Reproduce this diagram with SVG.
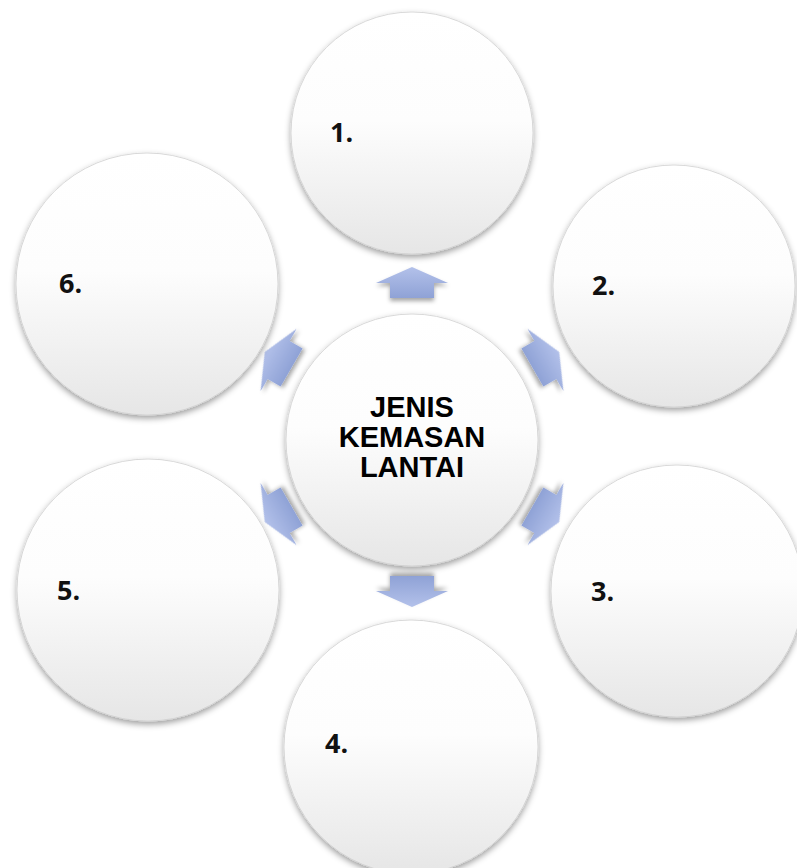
<svg xmlns="http://www.w3.org/2000/svg" width="797" height="868" viewBox="0 0 797 868">
  <defs>
    <linearGradient id="circFill" x1="0" y1="0" x2="0" y2="1">
      <stop offset="0" stop-color="#ffffff"/>
      <stop offset="0.45" stop-color="#fdfdfd"/>
      <stop offset="1" stop-color="#e6e6e6"/>
    </linearGradient>
    <linearGradient id="arrowFill" x1="0" y1="0" x2="0" y2="1">
      <stop offset="0" stop-color="#b3c1ea"/>
      <stop offset="1" stop-color="#8fa2d6"/>
    </linearGradient>
    <filter id="shadow" x="-20%" y="-20%" width="140%" height="145%">
      <feDropShadow dx="0" dy="3" stdDeviation="3" flood-color="#000000" flood-opacity="0.38"/>
    </filter>
    <filter id="ashadow" x="-30%" y="-30%" width="160%" height="170%">
      <feDropShadow dx="0" dy="3" stdDeviation="2" flood-color="#000000" flood-opacity="0.35"/>
    </filter>
    <path id="arrow" d="M412,267 L448,283 L434,283 L434,298 L390,298 L390,283 L376,283 Z"/>
  </defs>
  <style>
    .circ { fill: url(#circFill); stroke: #d0d0d0; stroke-width: 0.8; filter: url(#shadow); }
    .arr { fill: url(#arrowFill); filter: url(#ashadow); }
    .num { font-family: "Open Sans", Lato, "Liberation Sans", sans-serif; font-weight: bold; font-size: 27px; fill: #111111; }
    .center { font-family: "Liberation Sans", Arial, sans-serif; font-weight: bold; font-size: 29px; fill: #000000; text-anchor: middle; }
  </style>
  <rect x="0" y="0" width="797" height="868" fill="#ffffff"/>

  <g id="connectors">
    <use href="#arrow" class="arr" transform="rotate(0 412 437)"/>
    <use href="#arrow" class="arr" transform="rotate(60 412 437)"/>
    <use href="#arrow" class="arr" transform="rotate(120 412 437)"/>
    <use href="#arrow" class="arr" transform="rotate(180 412 437)"/>
    <use href="#arrow" class="arr" transform="rotate(240 412 437)"/>
    <use href="#arrow" class="arr" transform="rotate(300 412 437)"/>
  </g>

  <g id="node-center">
    <circle class="circ" cx="412" cy="440" r="126"/>
    <text class="center" x="412" y="417">JENIS</text>
    <text class="center" x="412" y="447">KEMASAN</text>
    <text class="center" x="412" y="477">LANTAI</text>
  </g>
  <g id="node-1">
    <circle class="circ" cx="412" cy="133" r="121"/>
    <text class="num" x="330" y="142">1.</text>
  </g>
  <g id="node-2">
    <circle class="circ" cx="674" cy="286" r="121"/>
    <text class="num" x="592" y="295">2.</text>
  </g>
  <g id="node-3">
    <circle class="circ" cx="677" cy="591" r="126"/>
    <text class="num" x="591" y="601">3.</text>
  </g>
  <g id="node-4">
    <circle class="circ" cx="411" cy="747" r="127"/>
    <text class="num" x="325" y="753">4.</text>
  </g>
  <g id="node-5">
    <circle class="circ" cx="148" cy="590" r="131"/>
    <text class="num" x="57" y="600">5.</text>
  </g>
  <g id="node-6">
    <circle class="circ" cx="147" cy="284" r="131"/>
    <text class="num" x="59" y="293">6.</text>
  </g>
</svg>
